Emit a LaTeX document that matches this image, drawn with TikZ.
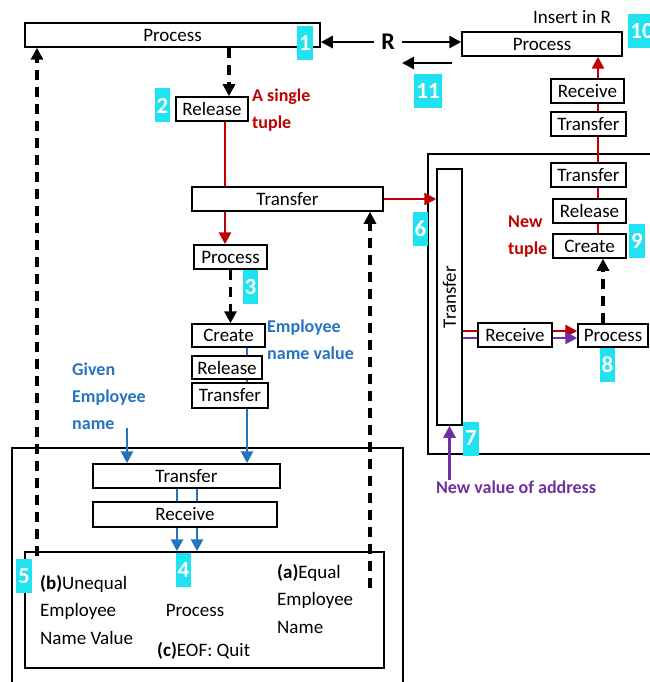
\documentclass[tikz,border=0pt]{standalone}
\usepackage{fontspec}
\setmainfont{Carlito}
\usetikzlibrary{arrows.meta}
\definecolor{flowred}{HTML}{C00000}
\definecolor{flowblue}{HTML}{2673BF}
\definecolor{flowpurple}{HTML}{7030A0}
\definecolor{tagcyan}{HTML}{1FE3F0}

\begin{document}
\begin{tikzpicture}[x=1pt,y=-1pt,font=\fontsize{19}{22}\selectfont,
  box/.style={draw=black,line width=1.5pt,fill=white,inner sep=1pt,minimum height=24pt},
  badge/.style={fill=tagcyan,text=white,font=\fontsize{23}{24}\selectfont\bfseries,
    inner ysep=0pt,inner xsep=2pt,minimum width=15pt,minimum height=34pt},
  link/.style={line width=2.8pt},
  flow/.style={link,-{Triangle[length=12pt,width=12pt]}},
  dasharrow/.style={flow,black,line width=3.2pt,dash pattern=on 10pt off 7pt},
  remark/.style={font=\fontsize{18}{27}\selectfont\bfseries,align=left,inner sep=0pt},
  plain/.style={font=\fontsize{19}{27.5}\selectfont,align=left,inner sep=0pt}]
  \useasboundingbox (0,0) rectangle (649,682);

  % Containers.
  \draw[line width=1.5pt] (12,448) rectangle (403,700);
  \draw[line width=1.5pt] (428,154) rectangle (700,454);
  \node[box,minimum width=359pt,minimum height=116pt] (evalbox) at (204.5,610) {};

  % Left column.
  \node[box,minimum width=295pt] (proc1) at (172.5,35) {Process};
  \node[box,minimum width=72pt] (rel2) at (212,109) {Release};
  \node[box,minimum width=191pt] (xferA) at (287.5,199) {Transfer};
  \node[box,minimum width=73pt] (proc3) at (230.5,257) {Process};
  \node[box,minimum width=73pt,minimum height=23pt] (create3) at (228.5,335.5) {Create};
  \node[box,minimum width=70pt,minimum height=23pt] (rel3) at (227,367.5) {Release};
  \node[box,minimum width=76pt,minimum height=25pt] (xfer3) at (230,395.5) {Transfer};
  \node[box,minimum width=187pt] (xferL) at (186.5,476) {Transfer};
  \node[box,minimum width=184pt,minimum height=25pt] (recvL) at (185,514.5) {Receive};

  % Right column.
  \node[box,minimum width=160pt] (proc10) at (542,44) {Process};
  \node[box,minimum width=73pt] (recv10) at (587.5,91) {Receive};
  \node[box,minimum width=75pt] (xfer10) at (588.5,124) {Transfer};
  \node[box,minimum width=75pt] (xfer9) at (588.5,175) {Transfer};
  \node[box,minimum width=73pt] (rel9) at (589.5,211) {Release};
  \node[box,minimum width=73pt] (create9) at (589.5,246) {Create};
  \node[box,minimum width=25pt,minimum height=256pt] (xferV) at (449.5,297) {};
  \node[rotate=90] (xferVtext) at (xferV.center) {Transfer};
  \node[box,minimum width=74pt] (recvR) at (515,335) {Receive};
  \node[box,minimum width=70pt,minimum height=23pt] (proc8) at (613,335.5) {Process};

  % Texts.
  \node[font=\fontsize{24}{26}\selectfont\bfseries,inner sep=7pt] (relR) at (388,42) {R};
  \node (insR) at (572,17) {Insert in R};
  \node[remark,flowred,anchor=west] (single) at (252,110) {A single\\tuple};
  \node[remark,flowred,anchor=west] (newtuple) at (508,237) {New\\tuple};
  \node[remark,flowblue,anchor=west] (empval) at (267,340) {Employee\\name value};
  \node[remark,flowblue,anchor=west] (given) at (72,396) {Given\\Employee\\name};
  \node[remark,flowpurple] (addr) at (516,487) {New value of address};
  \node[plain,anchor=west] (unequal) at (40,610) {\textbf{(b)}Unequal\\Employee\\Name Value};
  \node[plain] (evalproc) at (195,610) {Process};
  \node[plain,anchor=west] (eof) at (157,651) {\textbf{(c)}EOF: Quit};
  \node[plain,anchor=west] (equal) at (277,599) {\textbf{(a)}Equal\\Employee\\Name};

  % Step numbers.
  \foreach \n/\x/\y in {1/305/43,2/162.5/105.5,3/250.5/287,4/183.5/570,5/24/576,
      6/420.5/228.5,7/471/438.5,8/607.5/364.5,9/637/240.5,10/642/31,11/428/91}
    \node[badge] (tag\n) at (\x,\y) {\n};

  % Helper positions for offset connectors.
  \coordinate (dropA) at (229,0);
  \coordinate (redA) at (225,0);
  \coordinate (blueA) at (247,0);
  \coordinate (blueB) at (127,428);
  \coordinate (pairA) at (177,0);
  \coordinate (pairB) at (197,0);
  \coordinate (loopA) at (370,588);
  \coordinate (loopB) at (37,556);
  \coordinate (redC) at (0,331);
  \coordinate (purC) at (0,338);
  \coordinate (upC) at (603,0);
  \coordinate (redD) at (598,0);
  \coordinate (back11) at (452,63);
  \coordinate (to11) at (402,63);

  % Relation R.
  \draw[flow] (relR.west) -- (relR.west -| proc1.east);
  \draw[flow] (relR.east) -- (relR.east -| proc10.west);
  \draw[flow] (back11) -- (to11);

  % Left flow.
  \draw[dasharrow] (proc1.south -| dropA) -- (rel2.north -| dropA);
  \draw[link,flowred] (rel2.south -| redA) -- (xferA.north -| redA);
  \draw[flow,flowred] (xferA.south -| redA) -- (proc3.north -| redA);
  \draw[flow,flowred] (xferA.east) -- (xferA.east -| xferV.west);
  \draw[dasharrow] (proc3.south) -- (proc3.south |- create3.north);
  \draw[link,flowblue] (create3.south -| blueA) -- (rel3.north -| blueA);
  \draw[link,flowblue] (rel3.south -| blueA) -- (xfer3.north -| blueA);
  \draw[flow,flowblue] (xfer3.south -| blueA) -- (xferL.north -| blueA);
  \draw[flow,flowblue] (blueB) -- (blueB |- xferL.north);
  \foreach \p in {pairA,pairB} {
    \draw[link,flowblue] (xferL.south -| \p) -- (recvL.north -| \p);
    \draw[flow,flowblue] (recvL.south -| \p) -- (evalbox.north -| \p);
  }
  \draw[dasharrow] (loopB) -- (loopB |- proc1.south);
  \draw[dasharrow] (loopA) -- (loopA |- xferA.south);

  % Right flow.
  \draw[flow,flowpurple] (addr.north -| xferV.south) -- (xferV.south);
  \draw[link,flowred] (xferV.east |- redC) -- (recvR.west |- redC);
  \draw[flow,flowred] (recvR.east |- redC) -- (proc8.west |- redC);
  \draw[link,flowpurple] (xferV.east |- purC) -- (recvR.west |- purC);
  \draw[flow,flowpurple] (recvR.east |- purC) -- (proc8.west |- purC);
  \draw[dasharrow] (proc8.north -| upC) -- (create9.south -| upC);
  \foreach \a/\b in {create9/rel9,rel9/xfer9,xfer9/xfer10,xfer10/recv10}
    \draw[link,flowred] (\a.north -| redD) -- (\b.south -| redD);
  \draw[flow,flowred] (recv10.north -| redD) -- (proc10.south -| redD);
\end{tikzpicture}
\end{document}
